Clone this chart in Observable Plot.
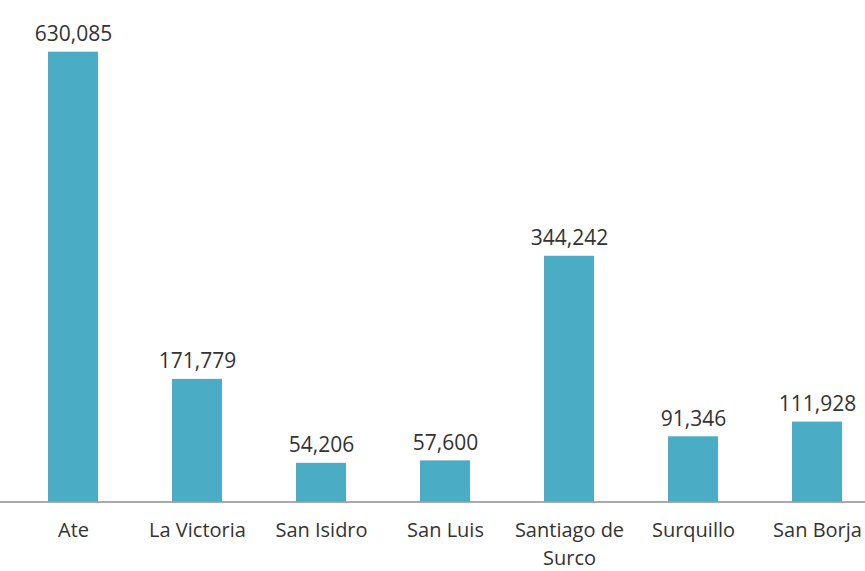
<!DOCTYPE html>
<html>
<head>
<meta charset="utf-8">
<script src="https://cdn.jsdelivr.net/npm/d3@7"></script>
<script src="https://cdn.jsdelivr.net/npm/@observablehq/plot@0.6"></script>
<style>
  html, body { margin: 0; padding: 0; background: #fff; }
  #chart svg { display: block; }
</style>
</head>
<body>
<div id="chart"></div>
<script>
const districts = ["Ate", "La Victoria", "San Isidro", "San Luis", "Santiago de Surco", "Surquillo", "San Borja"];
const labels = ["Ate", "La Victoria", "San Isidro", "San Luis", "Santiago de\nSurco", "Surquillo", "San Borja"];
const population = [630085, 171779, 54206, 57600, 344242, 91346, 111928];

const data = districts.map((d, i) => ({district: d, label: labels[i], value: population[i]}));
const fmt = d3.format(",");

const chart = Plot.plot({
  width: 865,
  height: 571,
  marginTop: 0,
  marginBottom: 0,
  marginLeft: 0,
  marginRight: 0,
  style: {fontFamily: "'Open Sans', sans-serif", background: "#fff"},
  x: {domain: districts, range: [9.8, 880.6], paddingInner: 0.6, paddingOuter: 0.3, axis: null},
  y: {domain: [0, 630085], range: [501.5, 51.7], axis: null},
  marks: [
    Plot.barY(data, {x: "district", y: "value", fill: "#4bacc6"}),
    Plot.ruleY([0], {stroke: "#8c8c8c", strokeWidth: 1.3}),
    Plot.text(data, {x: "district", y: "value", text: d => fmt(d.value), lineAnchor: "bottom", dy: -11, fontSize: 21, fill: "#333"}),
    Plot.text(data, {x: "district", y: () => 0, text: "label", lineAnchor: "top", dy: 15, fontSize: 20, lineHeight: 1.4, fill: "#333"})
  ]
});
document.getElementById("chart").appendChild(chart);
</script>
</body>
</html>
